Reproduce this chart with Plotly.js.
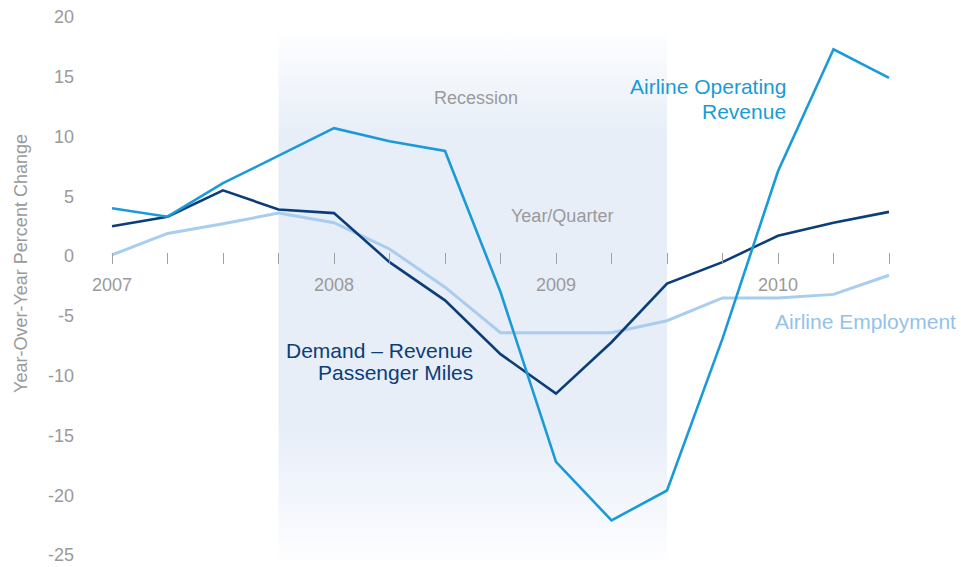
<!DOCTYPE html>
<html>
<head>
<meta charset="utf-8">
<script src="https://cdn.plot.ly/plotly-3.0.1.min.js"></script>
<style>html,body{margin:0;padding:0;background:#fff;}#chart{width:961px;height:567px;}</style>
</head>
<body>
<div id="chart"></div>
<script>
// ---- Data ----
const quarters = ['2007 Q1','2007 Q2','2007 Q3','2007 Q4','2008 Q1','2008 Q2','2008 Q3','2008 Q4',
                  '2009 Q1','2009 Q2','2009 Q3','2009 Q4','2010 Q1','2010 Q2','2010 Q3'];
const tickLabels = ['2007','','','','2008','','','','2009','','','','2010','',''];
const revenue    = [4.0, 3.3, 6.1, 8.4, 10.7, 9.6, 8.8, -3.0, -17.2, -22.1, -19.6, -6.9, 7.1, 17.3, 14.9];
const demand     = [2.5, 3.3, 5.5, 3.9, 3.6, -0.5, -3.7, -8.2, -11.5, -7.2, -2.3, -0.5, 1.7, 2.8, 3.7];
const employment = [0.1, 1.9, 2.7, 3.6, 2.8, 0.6, -2.6, -6.4, -6.4, -6.4, -5.4, -3.5, -3.5, -3.2, -1.6];
const recession  = ['2007 Q4', '2009 Q3'];
const yTicks     = [-25, -20, -15, -10, -5, 0, 5, 10, 15, 20];

// ---- Style ----
const cRev = '#1a9bd7', cDem = '#0b3d79', cEmp = '#a9cdee';
const gray = '#9a9a9a';
const font = 'Liberation Sans, Arial, Helvetica, sans-serif';
const yRange = [-26.0, 21.17];
const shadeTop = 19.1;
const shade = 'rgb(231,238,248)';

const traces = [
  {
    x: [recession[0], recession[1], recession[1], recession[0], recession[0]],
    y: [shadeTop, shadeTop, yRange[0], yRange[0], shadeTop],
    type: 'scatter', mode: 'lines', fill: 'toself',
    line: {width: 0, color: 'rgba(0,0,0,0)'},
    fillcolor: shade,
    fillgradient: {
      type: 'vertical', start: yRange[0], stop: shadeTop,
      colorscale: [[0, 'rgb(255,255,255)'], [0.12, 'rgb(243,246,252)'], [0.27, shade],
                   [0.8, shade], [0.92, 'rgb(245,248,252)'], [1, 'rgb(255,255,255)']]
    },
    hoverinfo: 'skip', showlegend: false
  },
  {x: quarters, y: employment, type: 'scatter', mode: 'lines', line: {color: cEmp, width: 3}, showlegend: false},
  {x: quarters, y: demand, type: 'scatter', mode: 'lines', line: {color: cDem, width: 2.6}, showlegend: false},
  {x: quarters, y: revenue, type: 'scatter', mode: 'lines', line: {color: cRev, width: 2.6}, showlegend: false}
];

const layout = {
  width: 961, height: 567,
  margin: {l: 85, r: 21, t: 3, b: 0},
  paper_bgcolor: '#fff', plot_bgcolor: 'rgba(0,0,0,0)',
  font: {family: font, color: gray, size: 18},
  showlegend: false,
  xaxis: {
    type: 'category', categoryorder: 'array', categoryarray: quarters,
    range: [-0.4865, 14.919],
    anchor: 'free', position: 0.5585,
    tickmode: 'array', tickvals: quarters, ticktext: tickLabels,
    ticks: 'outside', ticklen: 11, tickwidth: 1, tickcolor: '#a0a0a0',
    ticklabelstandoff: 5,
    showline: false, showgrid: false, zeroline: false,
    tickfont: {size: 18, color: gray, family: font}
  },
  yaxis: {
    range: yRange, tickmode: 'array', tickvals: yTicks, ticktext: yTicks.map(String),
    showgrid: false, zeroline: false, showline: false, ticks: '',
    ticklabelstandoff: 10,
    tickfont: {size: 18, color: gray, family: font}
  },
  annotations: [
    {xref: 'paper', yref: 'paper', x: -0.075, y: 0.539, text: 'Year-Over-Year Percent Change',
     textangle: -90, showarrow: false, xanchor: 'center', yanchor: 'middle',
     font: {size: 18, color: gray, family: font}},
    {xref: 'x', yref: 'y', x: 6.56, y: 13.2, text: 'Recession', showarrow: false,
     font: {size: 18, color: gray, family: font}},
    {xref: 'x', yref: 'y', x: 8.11, y: 3.34, text: 'Year/Quarter', showarrow: false,
     font: {size: 18, color: gray, family: font}},
    {xref: 'x', yref: 'y', x: 12.18, y: 14.21, text: 'Airline Operating', showarrow: false,
     xanchor: 'right', font: {size: 21, color: cRev, family: font}},
    {xref: 'x', yref: 'y', x: 12.18, y: 12.07, text: 'Revenue', showarrow: false,
     xanchor: 'right', font: {size: 21, color: cRev, family: font}},
    {xref: 'x', yref: 'y', x: 6.54, y: -7.86, text: 'Demand – Revenue', showarrow: false,
     xanchor: 'right', font: {size: 21, color: cDem, family: font}},
    {xref: 'x', yref: 'y', x: 6.54, y: -9.70, text: 'Passenger Miles', showarrow: false,
     xanchor: 'right', font: {size: 21, color: cDem, family: font}},
    {xref: 'x', yref: 'y', x: 11.91, y: -5.43, text: 'Airline Employment', showarrow: false,
     xanchor: 'left', font: {size: 21, color: '#93c2ea', family: font}}
  ]
};

Plotly.newPlot('chart', traces, layout, {displayModeBar: false, staticPlot: true});
</script>
</body>
</html>
